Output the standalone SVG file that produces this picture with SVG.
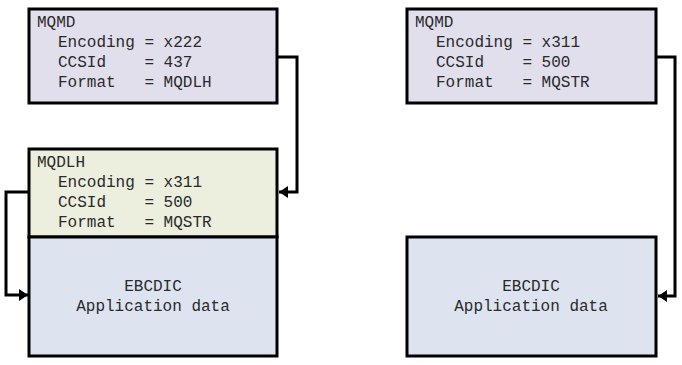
<svg xmlns="http://www.w3.org/2000/svg" width="682" height="365" viewBox="0 0 682 365">
<defs>
<marker id="arr" viewBox="0 0 9 12" refX="9" refY="6" markerWidth="9" markerHeight="12" markerUnits="userSpaceOnUse" orient="auto">
<path d="M0,0 L9,6 L0,12 z" fill="#000"/>
</marker>
<style>
.box{stroke:#000;stroke-width:3}
.md{fill:#E1DFEC}
.dlh{fill:#ECEEDE}
.data{fill:#DDE4F0}
text{font-family:"Liberation Mono","Courier New",monospace;font-size:16px;fill:#2a2a2a;white-space:pre}
.c{text-anchor:middle}
.conn{fill:none;stroke:#000;stroke-width:3}
</style>
</defs>
<rect width="682" height="365" fill="#fff"/>
<g id="mqmd-left">
<rect class="box md" x="29" y="9" width="248" height="94"/>
<text x="37" y="27">MQMD</text>
<text x="58" y="47" xml:space="preserve">Encoding = x222</text>
<text x="58" y="67" xml:space="preserve">CCSId    = 437</text>
<text x="58" y="87" xml:space="preserve">Format   = MQDLH</text>
</g>
<g id="mqdlh-left">
<rect class="box dlh" x="29" y="149" width="248" height="88"/>
<text x="37" y="167">MQDLH</text>
<text x="58" y="187" xml:space="preserve">Encoding = x311</text>
<text x="58" y="207" xml:space="preserve">CCSId    = 500</text>
<text x="58" y="227" xml:space="preserve">Format   = MQSTR</text>
</g>
<g id="data-left">
<rect class="box data" x="29" y="237" width="248" height="119"/>
<text class="c" x="153" y="291">EBCDIC</text>
<text class="c" x="153" y="311">Application data</text>
</g>
<g id="mqmd-right">
<rect class="box md" x="407" y="9" width="249" height="94"/>
<text x="415" y="27">MQMD</text>
<text x="436" y="47" xml:space="preserve">Encoding = x311</text>
<text x="436" y="67" xml:space="preserve">CCSId    = 500</text>
<text x="436" y="87" xml:space="preserve">Format   = MQSTR</text>
</g>
<g id="data-right">
<rect class="box data" x="407" y="237" width="249" height="119"/>
<text class="c" x="531" y="291">EBCDIC</text>
<text class="c" x="531" y="311">Application data</text>
</g>
<g id="connectors">
<path class="conn" d="M278,57 H297 V192 H279" marker-end="url(#arr)"/>
<path class="conn" d="M28,192 H6 V295 H28" marker-end="url(#arr)"/>
<path class="conn" d="M657,57 H675 V296 H658" marker-end="url(#arr)"/>
</g>
</svg>
